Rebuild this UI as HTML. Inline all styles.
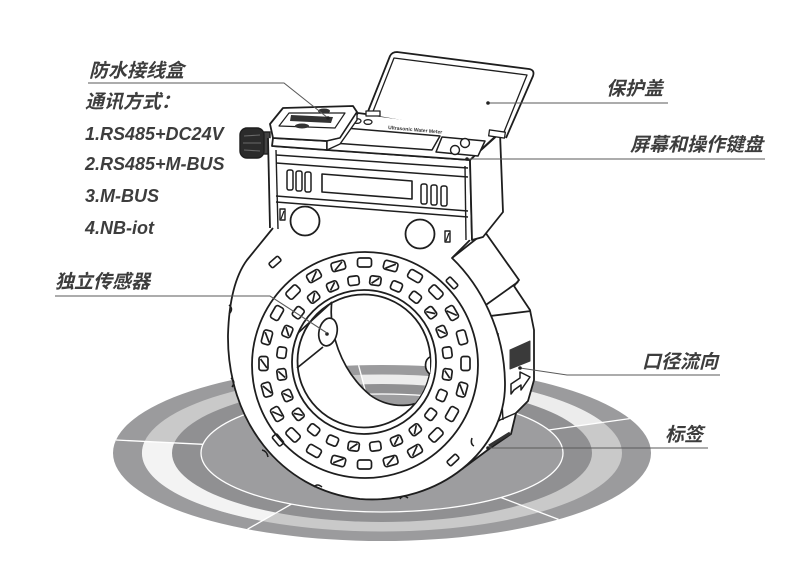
<!DOCTYPE html>
<html><head><meta charset="utf-8">
<style>
html,body{margin:0;padding:0;background:#fff;}
svg{display:block}
.t{font-family:"Liberation Sans","Noto Sans CJK SC",sans-serif;font-weight:bold;font-style:italic;fill:#3d3d3d;font-size:19px}
.l{font-family:"Liberation Sans","Noto Sans CJK SC",sans-serif;font-weight:bold;font-style:italic;fill:#3d3d3d;font-size:18px}
</style></head><body>
<svg width="800" height="569" viewBox="0 0 800 569" xmlns="http://www.w3.org/2000/svg">
<defs>
 <g id="base">
  <ellipse cx="382" cy="453" rx="269" ry="88" fill="#9b9b9d"/>
  <ellipse cx="382" cy="453" rx="240" ry="78.5" fill="#c9c9c9"/>
  <path d="M382,453 L262,521 A240,78.5 0 0 1 144.6,441.4 Z" fill="#f3f3f3"/>
  <path d="M382,453 L361.1,374.8 A240,78.5 0 0 1 602.9,422.3 Z" fill="#ececec"/>
  <ellipse cx="382" cy="453" rx="210" ry="69" fill="#909092"/>
  <ellipse cx="382" cy="453" rx="181" ry="59" fill="#9d9d9f" stroke="#fff" stroke-width="1.3"/>
  <g stroke="#fff" stroke-width="1.3">
   <line x1="116" y1="440" x2="203" y2="444.3"/>
   <line x1="247.5" y1="529.2" x2="291.5" y2="504.1"/>
   <line x1="558.5" y1="519.4" x2="500.8" y2="497.5"/>
   <line x1="629.6" y1="418.6" x2="548.6" y2="430"/>
   <line x1="358.6" y1="365.3" x2="366.2" y2="394.2"/>
  </g>
 </g>
 <clipPath id="fc"><circle cx="364" cy="361" r="66"/></clipPath>
 <clipPath id="hole" clip-path="url(#fc)"><path d="M332,300 C328,330 340,370 370,395 C390,410 420,408 432,392 L440,290 Z"/></clipPath>
 <g id="so"><rect x="-7" y="-105.5" width="14" height="9" rx="2.5"/></g>
 <g id="sd"><rect x="-7" y="-105.5" width="14" height="9" rx="2.5"/><line x1="-4.5" y1="-97.5" x2="4.5" y2="-104"/></g>
 <g id="si"><rect x="-5.5" y="-88" width="11" height="9" rx="2.5"/></g>
 <g id="sj"><rect x="-5.5" y="-88" width="11" height="9" rx="2.5"/><line x1="-3.5" y1="-80.5" x2="3.5" y2="-86.5"/></g>
</defs>

<use href="#base"/>

<g stroke="#1e1e1e" stroke-width="1.8" stroke-linejoin="round" fill="#fff">
 <!-- side body -->
 <path d="M452,258 L485,232 L519,280 L514,286 L530,310 L534,330 L534,380 L528,401 L516,413 L511,434 L489,449 L462,469 L420,420 Z"/>
 <polyline points="457,266 483,307 518,282" fill="none"/>
 <polyline points="483,307 482,317 531,311" fill="none"/>
 <line x1="498" y1="333" x2="503" y2="420" fill="none" stroke-width="1.4"/>
 <polyline points="483,431 500,420 516,413" fill="none" stroke-width="1.4"/>
 <line x1="489" y1="446" x2="510" y2="433" stroke="#333" stroke-width="3"/>
 <polygon points="510,350 530,341 530,361 510,369" fill="#3a3a3a" stroke="#3a3a3a" stroke-width="1"/>
 <path d="M511,394 L511,384 L520,378 L520,372 L530,377 L521,390 L521,385 L514,390 Z" stroke-width="1.5"/>

 <!-- flange -->
 <path d="M273,228 L247,260 C236,275 229,300 228,335 C227,420 280,490 360,499 C440,505 505,450 505,385 C505,330 480,285 452,258 L470,240 Z" stroke="none"/>
 <path d="M273,228 L247,260 C236,275 229,300 228,335 C227,420 280,490 360,499 C440,505 505,450 505,385 C505,330 480,285 452,258 L470,240" fill="none"/>
 <!-- notches -->
 <g fill="none" stroke-width="1.5">
  <path d="M229,305 q5,4 0,9"/>
  <path d="M231,378 q5,4 1,9"/>
  <path d="M262,450 q5,1 6,7"/>
  <path d="M314,487 q3,-4 8,0"/>
  <path d="M400,499 q3,-5 8,-1"/>
  <path d="M474,446 q-4,-2 -2,-8"/>
 </g>
 <!-- small outer slots -->
 <g stroke-width="1.6">
  <rect x="269" y="259" width="12" height="6" rx="1.5" transform="rotate(-41 275 262)"/>
  <rect x="446" y="280" width="12" height="6" rx="1.5" transform="rotate(46 452 283)"/>
  <rect x="272" y="437" width="12" height="6" rx="1.5" transform="rotate(50 278 440)"/>
  <rect x="447" y="457" width="12" height="6" rx="1.5" transform="rotate(-43 453 460)"/>
 </g>
 <circle cx="365" cy="365" r="113" fill="none"/>
 <circle cx="364" cy="362" r="72" fill="none"/>
 <g transform="translate(364.5,363.5)" stroke-width="1.7">
  <use href="#so" transform="rotate(0)"/>
  <use href="#sd" transform="rotate(15)"/>
  <use href="#so" transform="rotate(30)"/>
  <use href="#so" transform="rotate(45)"/>
  <use href="#sd" transform="rotate(60)"/>
  <use href="#so" transform="rotate(75)"/>
  <use href="#so" transform="rotate(90)"/>
  <use href="#sd" transform="rotate(105)"/>
  <use href="#so" transform="rotate(120)"/>
  <use href="#so" transform="rotate(135)"/>
  <use href="#sd" transform="rotate(150)"/>
  <use href="#sd" transform="rotate(165)"/>
  <use href="#so" transform="rotate(180)"/>
  <use href="#sd" transform="rotate(195)"/>
  <use href="#so" transform="rotate(210)"/>
  <use href="#so" transform="rotate(225)"/>
  <use href="#sd" transform="rotate(240)"/>
  <use href="#sd" transform="rotate(255)"/>
  <use href="#sd" transform="rotate(270)"/>
  <use href="#sd" transform="rotate(285)"/>
  <use href="#so" transform="rotate(300)"/>
  <use href="#so" transform="rotate(315)"/>
  <use href="#sd" transform="rotate(330)"/>
  <use href="#sd" transform="rotate(345)"/>
  <use href="#sj" transform="rotate(7.5)"/>
  <use href="#si" transform="rotate(22.5)"/>
  <use href="#si" transform="rotate(37.5)"/>
  <use href="#sj" transform="rotate(52.5)"/>
  <use href="#sj" transform="rotate(67.5)"/>
  <use href="#si" transform="rotate(82.5)"/>
  <use href="#sj" transform="rotate(97.5)"/>
  <use href="#si" transform="rotate(112.5)"/>
  <use href="#si" transform="rotate(127.5)"/>
  <use href="#sj" transform="rotate(142.5)"/>
  <use href="#sj" transform="rotate(157.5)"/>
  <use href="#si" transform="rotate(172.5)"/>
  <use href="#sj" transform="rotate(187.5)"/>
  <use href="#si" transform="rotate(202.5)"/>
  <use href="#si" transform="rotate(217.5)"/>
  <use href="#sj" transform="rotate(232.5)"/>
  <use href="#sj" transform="rotate(247.5)"/>
  <use href="#sj" transform="rotate(262.5)"/>
  <use href="#si" transform="rotate(277.5)"/>
  <use href="#sj" transform="rotate(292.5)"/>
  <use href="#si" transform="rotate(307.5)"/>
  <use href="#sj" transform="rotate(322.5)"/>
  <use href="#sj" transform="rotate(337.5)"/>
  <use href="#si" transform="rotate(352.5)"/>
 </g>
 <circle cx="364" cy="361" r="66.5"/>
</g>

<!-- see-through bore -->
<use href="#base" clip-path="url(#hole)"/>
<g stroke="#1e1e1e" stroke-width="1.7" fill="none" stroke-linejoin="round">
 <path d="M332,300 C328,330 340,370 370,395 C390,410 420,408 430,394" clip-path="url(#fc)"/>
 <line x1="298" y1="333" x2="332" y2="302"/>
 <line x1="297" y1="368" x2="323" y2="347"/>
 <ellipse cx="328" cy="332" rx="9" ry="14" transform="rotate(12 328 332)" fill="#fff"/>
 <path d="M430,357 C424,360 424,370 430,374" fill="#fff"/>
</g>
<circle cx="327" cy="334" r="1.8" fill="#222"/>

<!-- cable gland -->
<rect x="258" y="132" width="12" height="22" fill="#444" stroke="#1e1e1e" stroke-width="1.4"/>
<rect x="240" y="128" width="24" height="30" rx="7" fill="#2b2b2b" stroke="#1e1e1e" stroke-width="1.4"/>
<g stroke="#6a6a6a" stroke-width="1"><line x1="244" y1="136" x2="260" y2="135"/><line x1="243" y1="143" x2="261" y2="143"/><line x1="244" y1="150" x2="260" y2="151"/></g>

<!-- housing -->
<g stroke="#1e1e1e" stroke-width="1.8" stroke-linejoin="round" fill="#fff">
 <polygon points="268,138 470,160 472,240 273,228" stroke="none"/>
 <polyline points="268,138 270,228" fill="none"/>
 <polyline points="276,150 278,229" fill="none" stroke-width="1.4"/>
 <polyline points="470,160 472,240" fill="none"/>
 <polyline points="465,166 466,240" fill="none" stroke-width="1.4"/>
 <polygon points="470,160 500,133 503,212 483,237 472,240"/>
 <line x1="272" y1="146" x2="470" y2="160"/>
 <line x1="276" y1="155" x2="468" y2="168" stroke-width="1.5"/>
 <line x1="276" y1="163" x2="468" y2="177" stroke-width="1.5"/>
 <line x1="276" y1="196" x2="468" y2="211" stroke-width="1.5"/>
 <line x1="276" y1="202" x2="468" y2="217" stroke-width="1.5"/>
 <polygon points="322,174 412,181 412,199 322,192" stroke-width="1.6"/>
 <g stroke-width="1.5">
  <rect x="287" y="170" width="6" height="20" rx="2"/>
  <rect x="296" y="171" width="6" height="20" rx="2"/>
  <rect x="305" y="172" width="6" height="20" rx="2"/>
  <rect x="421" y="184" width="6" height="20" rx="2"/>
  <rect x="431" y="185" width="6" height="20" rx="2"/>
  <rect x="441" y="186" width="6" height="20" rx="2"/>
 </g>
 <circle cx="305" cy="221" r="14.5"/>
 <circle cx="420" cy="234" r="14.5"/>
 <rect x="280" y="209" width="5" height="11" stroke-width="1.4"/>
 <line x1="281" y1="219" x2="284" y2="211" stroke-width="1.2"/>
 <rect x="445" y="231" width="5" height="11" stroke-width="1.4"/>
 <line x1="446" y1="241" x2="449" y2="233" stroke-width="1.2"/>

 <!-- top face -->
 <polygon points="327,150 340,139 358,113 500,132 470,160"/>
 <polygon points="345,128 440,136 432,150 333,143" stroke-width="1.5"/>
 <ellipse cx="357" cy="121" rx="4" ry="2.3" stroke-width="1.3"/>
 <ellipse cx="368" cy="122" rx="4" ry="2.3" stroke-width="1.3"/>
 <polygon points="442,137 485,141 478,156 436,152" stroke-width="1.5"/>
 <circle cx="465" cy="143" r="4.5" stroke-width="1.4"/>
 <circle cx="455" cy="150" r="4.5" stroke-width="1.4"/>
 <!-- junction box -->
 <polygon points="273,138 327,141 327,150 272,146"/>
 <polygon points="270,124 283,108 353,106 357,112 340,138 327,141 273,138"/>
 <polygon points="327,141 340,138 357,112 357,120 340,144 327,150" stroke-width="1.4"/>
 <polygon points="279,126 289,113 345,113 335,128" fill="none" stroke-width="1.2"/>
</g>
<polygon points="291,115 333,117 331,123 290,121" fill="#333"/>
<ellipse cx="324" cy="111" rx="6" ry="2.5" fill="#333"/>
<ellipse cx="302" cy="126" rx="7" ry="2.5" fill="#333"/>
<text x="388" y="129" font-family="Liberation Sans, sans-serif" font-size="5" font-weight="bold" fill="#333" transform="rotate(5 388 129)">Ultrasonic Water Meter</text>

<!-- lid -->
<g stroke="#1e1e1e" stroke-width="1.8" stroke-linejoin="round" fill="#fff">
 <path d="M367,114 L390,56 Q392,52 397,52 L529,69 Q535,70 533,76 L506,138"/>
 <path d="M372,114 L394,58 L527,75 L502,137" fill="none" stroke-width="1.3"/>
 <rect x="366" y="111" width="14" height="5" stroke-width="1.3"/>
 <rect x="489" y="131" width="16" height="6" stroke-width="1.3" transform="rotate(8 497 134)"/>
</g>

<!-- leader lines -->
<g stroke="#5a5a5a" stroke-width="1.1" fill="none">
 <polyline points="88,83 284,83 328,118"/>
 <polyline points="55,296 270,296 327,333"/>
 <line x1="488" y1="103" x2="668" y2="103"/>
 <line x1="467" y1="159" x2="765" y2="159"/>
 <polyline points="520,368 567,375 720,375"/>
 <line x1="488" y1="448" x2="708" y2="448"/>
</g>
<g fill="#222">
 <circle cx="328" cy="118" r="1.8"/>
 <circle cx="488" cy="103" r="1.8"/>
 <circle cx="467" cy="159" r="1.8"/>
 <circle cx="520" cy="368" r="1.8"/>
 <circle cx="488" cy="448" r="1.8"/>
</g>

<!-- labels -->
<text class="t" x="89" y="77">防水接线盒</text>
<text class="t" x="85" y="108">通讯方式：</text>
<text class="l" x="85" y="140">1.RS485+DC24V</text>
<text class="l" x="85" y="170">2.RS485+M-BUS</text>
<text class="l" x="85" y="202">3.M-BUS</text>
<text class="l" x="85" y="234">4.NB-iot</text>
<text class="t" x="55" y="288">独立传感器</text>
<text class="t" x="606" y="95">保护盖</text>
<text class="t" x="630" y="151">屏幕和操作键盘</text>
<text class="t" x="642" y="368">口径流向</text>
<text class="t" x="665" y="441">标签</text>
</svg>
</body></html>
